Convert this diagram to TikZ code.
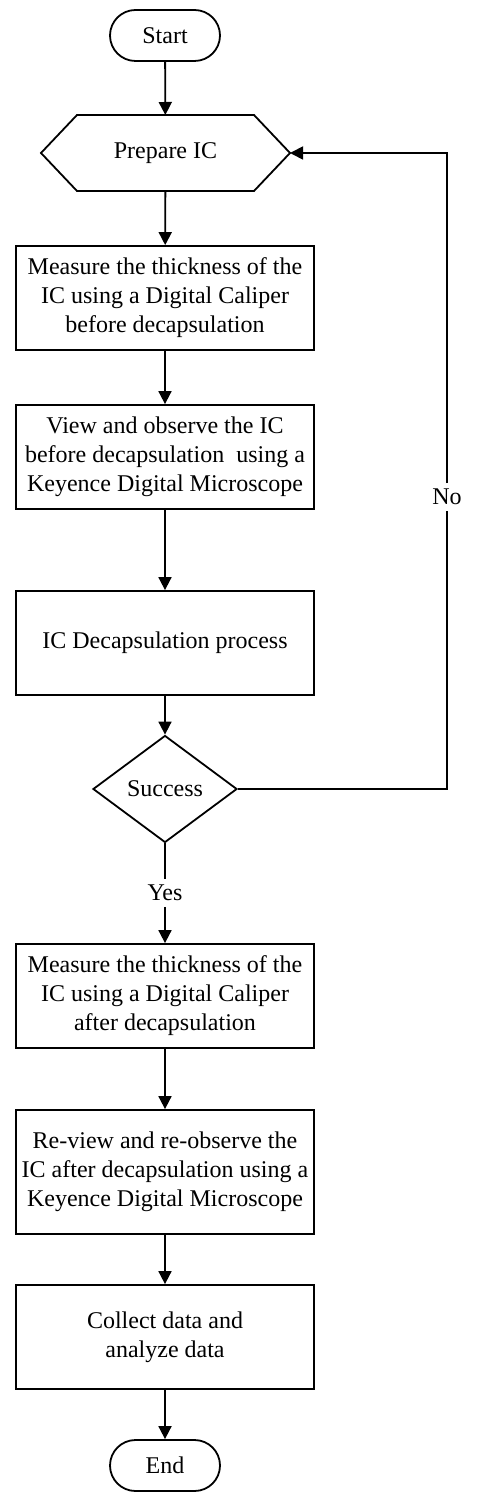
\documentclass[tikz,border=0pt]{standalone}
\usepackage{fontspec}
\setmainfont{Liberation Serif}
\usetikzlibrary{shapes.geometric,shapes.misc,arrows.meta}

\begin{document}
\begin{tikzpicture}[x=0.5pt,y=-0.5pt,line width=0.9pt,
    every node/.style={font=\fontsize{12}{14.5}\selectfont},
    term/.style={draw, rounded rectangle, minimum width=55pt, minimum height=25.5pt, inner sep=0pt},
    procbox/.style={draw, align=center, minimum width=149pt, minimum height=52pt, inner sep=0pt},
    decide/.style={draw, diamond, minimum width=72pt, minimum height=53.5pt, inner sep=0pt},
    flow/.style={-{Triangle[length=6.5pt,width=6.5pt]}}]
      % page frame
      \useasboundingbox (0,0) rectangle (484,1502);

      % start and preparation
      \node (start) at (165,35.5) [term] {Start};
      \node (prep) at (165.5,153) [minimum width=124.5pt, minimum height=38pt, outer sep=0pt] {Prepare IC};
      \draw (prep.west) -- ([xshift=18pt]prep.north west) -- ([xshift=-18pt]prep.north east) -- (prep.east)
        -- ([xshift=-18pt]prep.south east) -- ([xshift=18pt]prep.south west) -- cycle;

      % before decapsulation
      \node (measurebefore) at (165,298) [procbox] {Measure the thickness of the\\IC using a Digital Caliper\\before decapsulation};
      \node (viewbefore) at (165,457) [procbox] {View and observe the IC\\before decapsulation~ using a\\Keyence Digital Microscope};
      \node (decap) at (165,643) [procbox] {IC Decapsulation process};
      \node (success) at (165,789) [decide] {Success};

      % after decapsulation
      \node (yes) at (165,893) [inner sep=2.5pt] {Yes};
      \node (measureafter) at (165,996) [procbox] {Measure the thickness of the\\IC using a Digital Caliper\\after decapsulation};
      \node (viewafter) at (165,1172) [procbox, minimum height=62pt] {Re-view and re-observe the\\IC after decapsulation using a\\Keyence Digital Microscope};
      \node (collect) at (165,1337) [procbox] {Collect data and\\analyze data};
      \node (end) at (165,1465.5) [term] {End};

      % loop back
      \node (no) at (447,497) [inner sep=2.5pt] {No};

      % connectors
      \draw[flow] (start) -- (prep);
      \draw[flow] (prep) -- (measurebefore);
      \draw[flow] (measurebefore) -- (viewbefore);
      \draw[flow] (viewbefore) -- (decap);
      \draw[flow] (decap) -- (success);
      \draw (success) -- (yes);
      \draw[flow] (yes) -- (measureafter);
      \draw[flow] (measureafter) -- (viewafter);
      \draw[flow] (viewafter) -- (collect);
      \draw[flow] (collect) -- (end);
      \draw (success.east) -- (success.east -| no) -- (no);
      \draw[flow] (no) |- (prep.east);
    \end{tikzpicture}
\end{document}
